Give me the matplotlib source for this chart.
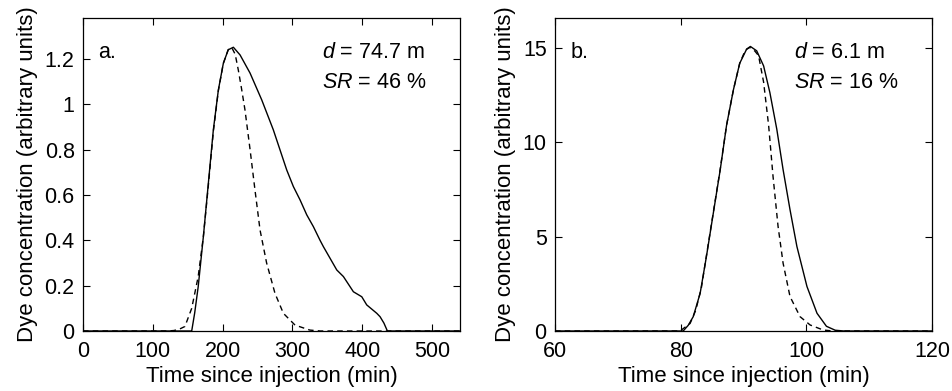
import numpy as np
import matplotlib
matplotlib.use("Agg")
import matplotlib.pyplot as plt

plt.rcParams['font.family'] = ['Liberation Sans', 'DejaVu Sans']
plt.rcParams['mathtext.fontset'] = 'custom'
plt.rcParams['mathtext.it'] = 'Liberation Sans:italic'
plt.rcParams['mathtext.rm'] = 'Liberation Sans'

# panel a: measured (solid) and fitted (dashed) breakthrough curves
ta_obs = [0, 100, 150, 155.7, 160, 165, 172.4, 179.5, 186.7, 193.9, 201, 208, 215.4,
          225, 239.3, 256, 272.6, 291.8, 301.3, 310.9, 320.5, 330, 339.5, 344.3, 363.5,
          373, 387.3, 399.3, 406.4, 420.8, 425.5, 431, 436, 540]
ca_obs = [0, 0, 0, 0, 0.08, 0.195, 0.416, 0.65, 0.887, 1.063, 1.18, 1.24, 1.251,
          1.217, 1.137, 1.019, 0.887, 0.71, 0.637, 0.578, 0.512, 0.46, 0.40, 0.372, 0.269,
          0.24, 0.173, 0.151, 0.115, 0.078, 0.063, 0.035, 0, 0]
ta_fit = [0, 120, 130, 138, 146, 155.7, 165, 172.4, 179.5, 186.7, 193.9, 201, 208, 213,
          218, 222.5, 227, 232, 239.3, 246.4, 253.6, 263, 275, 287, 303.7, 325, 340, 540]
ca_fit = [0, 0, 0.002, 0.008, 0.02, 0.1, 0.24, 0.416, 0.64, 0.88, 1.06, 1.18, 1.24, 1.25,
          1.22, 1.15, 1.07, 0.975, 0.80, 0.62, 0.445, 0.30, 0.166, 0.078, 0.026, 0.004, 0, 0]

# panel b
tb_obs = [60, 78, 80.4, 81.2, 82.0, 83.1, 84.1, 85.2, 86.3, 87.3, 88.4, 89.4, 90.5, 91.1,
          92.1, 93.2, 94.2, 95.3, 96.3, 97.4, 98.5, 100.1, 101.7, 103.2, 104.6, 106, 120]
cb_obs = [0, 0, 0, 0.3, 0.76, 2.0, 3.95, 6.26, 8.56, 10.9, 12.8, 14.2, 14.95, 15.09,
          14.86, 14.06, 12.64, 10.7, 8.56, 6.44, 4.48, 2.36, 0.94, 0.25, 0.04, 0, 0]
tb_fit = [60, 78, 79.9, 81.5, 82.4, 83.3, 84.1, 85.2, 86.3, 87.3, 88.4, 89.4, 90.3, 91.0,
          91.8, 92.4, 93.2, 94.0, 94.7, 95.5, 96.3, 97.4, 99.0, 100.6, 102.7, 104.3, 120]
cb_fit = [0, 0, 0, 0.4, 1.1, 2.3, 4.0, 6.3, 8.6, 10.9, 12.8, 14.2, 14.9, 15.04,
          14.85, 14.6, 13.2, 10.9, 8.2, 5.55, 3.6, 1.83, 0.76, 0.32, 0.05, 0, 0]

fig = plt.figure(figsize=(9.52, 3.91), dpi=100)
W, H = 952, 391
axa = fig.add_axes([83 / W, 1 - 331 / H, 377 / W, 313 / H])
axb = fig.add_axes([555 / W, 1 - 331 / H, 377 / W, 313 / H])

fs = 15.5
for ax in (axa, axb):
    ax.tick_params(direction='in', top=True, right=True, labelsize=fs, length=5,
                   width=0.8, colors='black')
    ax.tick_params(axis='x', pad=7)
    ax.tick_params(axis='y', pad=6)
    for s in ax.spines.values():
        s.set_linewidth(0.9)
    ax.set_xlabel('Time since injection (min)', fontsize=16, labelpad=3)
    ax.set_ylabel('Dye concentration (arbitrary units)', fontsize=16, labelpad=5)

axa.plot(ta_obs, ca_obs, color='black', lw=1.0)
axa.plot(ta_fit, ca_fit, color='black', lw=1.0, ls=(0, (4, 3)))
axa.set_xlim(0, 540)
axa.set_ylim(0, 1.38)
axa.set_xticks([0, 100, 200, 300, 400, 500])
axa.set_yticks([0, 0.2, 0.4, 0.6, 0.8, 1.0, 1.2])
axa.set_yticklabels(['0', '0.2', '0.4', '0.6', '0.8', '1', '1.2'])
axa.text(0.04, 0.89, 'a.', transform=axa.transAxes, fontsize=fs, va='center')
axa.text(0.634, 0.89, r'$d$ = 74.7 m', transform=axa.transAxes, fontsize=fs, va='center')
axa.text(0.634, 0.795, r'$SR$ = 46 %', transform=axa.transAxes, fontsize=fs, va='center')

axb.plot(tb_obs, cb_obs, color='black', lw=1.0)
axb.plot(tb_fit, cb_fit, color='black', lw=1.0, ls=(0, (4, 3)))
axb.set_xlim(60, 120)
axb.set_ylim(0, 16.6)
axb.set_xticks([60, 80, 100, 120])
axb.set_yticks([0, 5, 10, 15])
axb.text(0.042, 0.89, 'b.', transform=axb.transAxes, fontsize=fs, va='center')
axb.text(0.634, 0.89, r'$d$ = 6.1 m', transform=axb.transAxes, fontsize=fs, va='center')
axb.text(0.634, 0.795, r'$SR$ = 16 %', transform=axb.transAxes, fontsize=fs, va='center')

fig.savefig('out.png', dpi=100)
